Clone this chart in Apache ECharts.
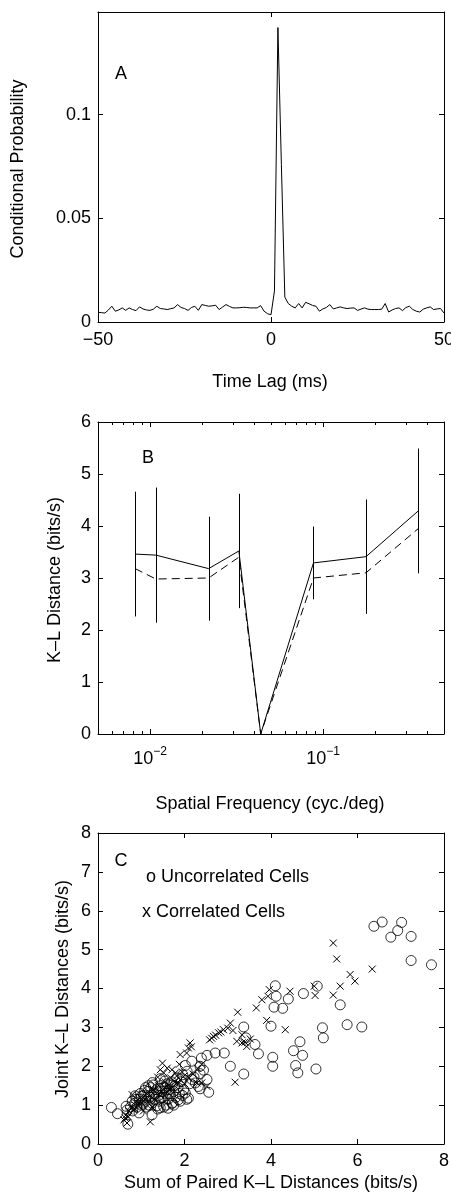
<!DOCTYPE html>
<html>
<head>
<meta charset="utf-8">
<script src="https://cdn.jsdelivr.net/npm/echarts@6/dist/echarts.min.js"></script>
<style>
html,body{margin:0;padding:0;background:#fff;}
#chart{width:451px;height:1194px;}
</style>
</head>
<body>
<div id="chart"></div>
<script>
// ---------- Panel A data ----------
const lags = [-50,-49,-48,-47,-46,-45,-44,-43,-42,-41,-40,-39,-38,-37,-36,-35,-34,-33,-32,-31,-30,-29,-28,-27,-26,-25,-24,-23,-22,-21,-20,-19,-18,-17,-16,-15,-14,-13,-12,-11,-10,-9,-8,-7,-6,-5,-4,-3,-2,-1,0,1,2,3,4,5,6,7,8,9,10,11,12,13,14,15,16,17,18,19,20,21,22,23,24,25,26,27,28,29,30,31,32,33,34,35,36,37,38,39,40,41,42,43,44,45,46,47,48,49,50];
const condProb = [0.0047,0.0045,0.0043,0.0058,0.0076,0.0052,0.0058,0.0068,0.0056,0.0068,
  0.0060,0.0055,0.0073,0.0063,0.0058,0.0056,0.0062,0.0076,0.0065,0.0063,
  0.0060,0.0064,0.0068,0.0084,0.0070,0.0065,0.0056,0.0070,0.0076,0.0056,
  0.0084,0.0080,0.0076,0.0078,0.0081,0.0060,0.0072,0.0084,0.0075,0.0068,
  0.0068,0.0069,0.0071,0.0070,0.0068,0.0068,0.0068,0.0079,0.0052,0.0040,
  0.0035,0.0150,0.1420,0.0760,0.0120,0.0089,0.0076,0.0068,0.0089,0.0068,
  0.0095,0.0088,0.0080,0.0076,0.0052,0.0063,0.0070,0.0084,0.0063,0.0068,
  0.0073,0.0068,0.0065,0.0067,0.0068,0.0056,0.0062,0.0068,0.0062,0.0060,
  0.0060,0.0060,0.0062,0.0089,0.0048,0.0058,0.0065,0.0068,0.0055,0.0070,
  0.0076,0.0060,0.0052,0.0048,0.0062,0.0068,0.0073,0.0060,0.0063,0.0065,
  0.0043];

// ---------- Panel B data ----------
const spatialFreq = [0.0082,0.0108,0.0218,0.0326,0.0436,0.088,0.177,0.355];
const klSolid     = [3.46,3.44,3.18,3.52,0,3.29,3.41,4.29];
const klDashed    = [3.18,2.98,3.00,3.40,0,3.00,3.10,3.95];
const klErr       = [1.20,1.30,1.00,1.10,0,0.70,1.10,1.20];
const logMinorTicks = [0.006,0.007,0.008,0.009,0.02,0.03,0.04,0.05,0.06,0.07,0.08,0.09,0.2,0.3,0.4];

// ---------- Panel C data ----------
const uncorrX = [0.31,0.45,0.67,0.69,0.65,0.86,1.17,1.25,6.38,6.57,7.02,6.93,6.77,7.24,7.24,7.71,
  4.10,5.07,4.75,4.40,4.12,4.07,4.27,5.60,3.37,4.00,5.19,5.21,5.76,6.10,3.42,3.63,3.71,3.06,3.37,
  4.04,4.04,4.52,4.67,4.73,4.57,4.62,5.04,2.92,2.71,2.52,2.39,2.36,2.36,2.52,2.56,2.36,2.17,2.02,
  2.06,2.17,2.25,2.09,1.86,1.71,1.44,2.02,1.56,1.31,1.00,1.05,0.79,
  0.75,0.80,0.85,0.90,0.95,1.00,1.05,1.10,1.12,1.15,1.20,1.22,1.25,1.30,1.32,1.35,1.40,1.42,1.45,
  1.48,1.50,1.52,1.55,1.58,1.60,1.62,1.65,1.68,1.70,1.72,1.75,1.78,1.80,1.85,1.88,1.92,1.95,1.98,
  2.05,1.10,0.95,1.38,1.58,1.75,
  0.88,0.98,1.08,1.18,1.28,1.36,1.46,1.54,1.64,1.72,1.82,1.90,2.12,2.22,2.32,2.44,1.26,1.44,1.62,1.96];
const uncorrY = [0.94,0.78,0.87,0.51,0.97,1.24,1.50,0.75,5.60,5.71,5.70,5.49,5.32,5.34,4.72,4.61,
  4.07,4.06,3.87,3.73,3.80,3.52,3.49,3.58,3.01,3.03,2.99,2.73,3.07,3.01,2.73,2.56,2.32,2.00,1.80,
  2.23,2.00,2.40,2.63,2.28,2.02,1.83,1.93,2.34,2.34,2.28,2.21,2.00,1.81,1.66,1.33,1.42,1.66,2.02,
  1.87,2.13,1.57,1.18,1.14,1.05,0.93,1.31,1.36,1.27,1.23,1.05,1.10,
  0.95,0.85,1.05,0.95,1.15,1.00,1.25,1.10,0.95,1.35,1.20,1.45,1.05,1.30,1.15,1.40,1.25,1.10,1.50,
  1.35,1.20,0.95,1.45,1.30,1.55,1.15,1.40,1.25,1.60,1.05,1.35,1.50,1.20,1.45,1.30,1.60,1.25,1.40,
  1.15,1.45,0.80,0.90,1.00,1.00,
  1.15,1.30,1.38,1.00,1.52,0.98,1.18,1.62,1.30,1.52,1.70,1.10,1.55,1.72,1.48,1.90,1.58,1.68,0.92,1.78];
const corrX = [5.44,5.52,6.34,5.83,5.94,5.60,5.44,5.00,5.02,4.44,4.33,3.96,3.93,3.79,3.66,3.90,3.23,
  3.06,2.90,2.79,2.67,2.58,3.21,3.33,3.44,3.17,3.33,2.13,2.09,1.90,1.49,1.44,1.71,1.98,2.29,2.52,
  1.21,0.63,0.67,0.82,0.79,0.94,1.52,1.79,2.05,2.63,2.40,
  0.65,0.72,0.78,0.85,0.88,0.92,0.98,1.02,1.08,1.12,1.18,1.22,1.28,1.30,1.35,1.40,1.45,1.50,1.55,
  1.58,1.62,1.68,1.72,1.78,1.82,1.85,1.90,1.95,2.00,2.10,2.20,2.30,2.40,0.60,0.70,1.05,1.25,
  1.38,1.60,1.66,1.88,2.16,2.72,2.84,3.00,3.12,3.40,3.52];
const corrY = [5.17,4.76,4.50,4.36,4.19,4.06,3.83,4.06,3.82,3.93,2.94,3.97,3.80,3.71,3.50,3.18,3.39,
  3.11,2.94,2.86,2.77,2.68,2.64,2.81,2.51,1.59,2.60,2.60,2.47,2.30,2.08,1.91,1.91,1.74,1.57,1.48,
  0.57,0.67,0.54,0.88,1.27,1.05,1.83,1.83,2.34,2.72,1.57,
  0.75,0.85,0.95,0.90,1.10,1.00,1.20,1.05,1.15,1.30,1.10,1.25,1.40,1.15,1.30,1.50,1.25,1.40,1.60,
  1.35,1.50,1.70,1.45,1.60,1.75,1.55,1.65,1.85,1.55,1.70,1.80,1.95,2.05,0.62,0.70,0.85,0.95,
  1.72,1.95,1.40,2.05,2.50,2.80,2.88,2.98,2.92,2.62,2.70];

const FONT = '"Liberation Sans", Arial, Helvetica, sans-serif';
const FS = 18;
const chart = echarts.init(document.getElementById('chart'), null, {renderer: 'canvas'});

const grids = [
  {left: 98, top: 12, width: 346, height: 310, outerBoundsMode: 'none'},
  {left: 98, top: 422, width: 346, height: 312, outerBoundsMode: 'none'},
  {left: 98, top: 833, width: 346, height: 311, outerBoundsMode: 'none'}
];

const lbl = {color: '#000', fontFamily: FONT, fontSize: FS, alignMinLabel: 'center', alignMaxLabel: 'center'};
function mainAxis(extra) {
  return Object.assign({
    axisLine: {show: true, onZero: false, lineStyle: {color: '#000', width: 1}},
    axisTick: {show: true, inside: true, length: 5, lineStyle: {color: '#000'}},
    splitLine: {show: false},
    axisLabel: Object.assign({}, lbl, {margin: 8})
  }, extra);
}
function mirrorAxis(extra) {
  return Object.assign({
    axisLine: {show: true, onZero: false, lineStyle: {color: '#000', width: 1}},
    axisTick: {show: true, inside: true, length: 5, lineStyle: {color: '#000'}},
    splitLine: {show: false},
    axisLabel: {show: false}
  }, extra);
}
const minusFmt = v => String(v).replace('-', '\u2212');
function logFmt(v) {
  const l = Math.log10(v);
  if (Math.abs(l - Math.round(l)) < 1e-6) {
    return '{b|10}{s|' + String(Math.round(l)).replace('-', '\u2212') + '}';
  }
  return '';
}

const option = {
  animation: false,
  backgroundColor: '#fff',
  grid: grids,
  xAxis: [
    mainAxis({gridIndex: 0, type: 'value', min: -50, max: 50, interval: 50, position: 'bottom',
      axisLabel: Object.assign({}, lbl, {margin: 9, formatter: minusFmt})}),
    mirrorAxis({gridIndex: 0, type: 'value', min: -50, max: 50, interval: 50, position: 'top'}),
    mainAxis({gridIndex: 1, type: 'log', logBase: 10, min: 0.005, max: 0.5, position: 'bottom',
      axisLabel: Object.assign({}, lbl, {margin: 12, formatter: logFmt,
        rich: {b: {fontFamily: FONT, fontSize: FS, color: '#000', verticalAlign: 'bottom'},
               s: {fontFamily: FONT, fontSize: 12, color: '#000', verticalAlign: 'top', padding: [0,0,10,0]}}})}),
    mirrorAxis({gridIndex: 1, type: 'log', logBase: 10, min: 0.005, max: 0.5, position: 'top'}),
    mainAxis({gridIndex: 2, type: 'value', min: 0, max: 8, interval: 2, position: 'bottom'}),
    mirrorAxis({gridIndex: 2, type: 'value', min: 0, max: 8, interval: 2, position: 'top'})
  ],
  yAxis: [
    mainAxis({gridIndex: 0, type: 'value', min: 0, max: 0.1495, interval: 0.05, position: 'left',
      axisLabel: Object.assign({}, lbl, {margin: 7, showMaxLabel: false, alignMinLabel: null, alignMaxLabel: null})}),
    mirrorAxis({gridIndex: 0, type: 'value', min: 0, max: 0.1495, interval: 0.05, position: 'right'}),
    mainAxis({gridIndex: 1, type: 'value', min: 0, max: 6, interval: 1, position: 'left',
      axisLabel: Object.assign({}, lbl, {margin: 7, alignMinLabel: null, alignMaxLabel: null})}),
    mirrorAxis({gridIndex: 1, type: 'value', min: 0, max: 6, interval: 1, position: 'right'}),
    mainAxis({gridIndex: 2, type: 'value', min: 0, max: 8, interval: 1, position: 'left',
      axisLabel: Object.assign({}, lbl, {margin: 7, alignMinLabel: null, alignMaxLabel: null})}),
    mirrorAxis({gridIndex: 2, type: 'value', min: 0, max: 8, interval: 1, position: 'right'})
  ],
  series: [
    {
      type: 'line', xAxisIndex: 0, yAxisIndex: 0,
      data: lags.map((l, i) => [l, condProb[i]]),
      showSymbol: false, symbol: 'none',
      lineStyle: {color: '#000', width: 1}
    },
    {
      type: 'line', xAxisIndex: 2, yAxisIndex: 2,
      data: spatialFreq.map((f, i) => [f, klSolid[i]]),
      showSymbol: false, symbol: 'none',
      lineStyle: {color: '#000', width: 1}
    },
    {
      type: 'line', xAxisIndex: 2, yAxisIndex: 2,
      data: spatialFreq.map((f, i) => [f, klDashed[i]]),
      showSymbol: false, symbol: 'none',
      lineStyle: {color: '#000', width: 1, type: [8, 5]}
    },
    {
      type: 'custom', xAxisIndex: 2, yAxisIndex: 2,
      data: spatialFreq.map((f, i) => [f, klSolid[i] - klErr[i], klSolid[i] + klErr[i]]),
      encode: {x: 0, y: [1, 2]},
      renderItem: function (params, api) {
        const lo = api.coord([api.value(0), api.value(1)]);
        const hi = api.coord([api.value(0), api.value(2)]);
        if (Math.abs(lo[1] - hi[1]) < 1) return null;
        const x = Math.round(lo[0]) + 0.5;
        return {type: 'line', shape: {x1: x, y1: lo[1], x2: x, y2: hi[1]},
          style: {stroke: '#000', lineWidth: 1}};
      }
    },
    {
      type: 'custom', xAxisIndex: 2, yAxisIndex: 2,
      data: logMinorTicks.map(v => [v]),
      encode: {x: 0},
      renderItem: function (params, api) {
        const b = api.coord([api.value(0), 0]);
        const t = api.coord([api.value(0), 6]);
        const x = Math.round(b[0]) + 0.5;
        return {type: 'group', children: [
          {type: 'line', shape: {x1: x, y1: b[1], x2: x, y2: b[1] - 3}, style: {stroke: '#000', lineWidth: 1}},
          {type: 'line', shape: {x1: x, y1: t[1], x2: x, y2: t[1] + 3}, style: {stroke: '#000', lineWidth: 1}}
        ]};
      }
    },
    {
      type: 'scatter', xAxisIndex: 4, yAxisIndex: 4,
      data: uncorrX.map((x, i) => [x, uncorrY[i]]),
      symbol: 'circle', symbolSize: 10,
      itemStyle: {color: 'rgba(0,0,0,0)', borderColor: '#000', borderWidth: 1}
    },
    {
      type: 'custom', xAxisIndex: 4, yAxisIndex: 4,
      data: corrX.map((x, i) => [x, corrY[i]]),
      encode: {x: 0, y: 1},
      renderItem: function (params, api) {
        const p = api.coord([api.value(0), api.value(1)]);
        const h = 3.5;
        return {type: 'group', children: [
          {type: 'line', shape: {x1: p[0] - h, y1: p[1] - h, x2: p[0] + h, y2: p[1] + h}, style: {stroke: '#000', lineWidth: 1}},
          {type: 'line', shape: {x1: p[0] - h, y1: p[1] + h, x2: p[0] + h, y2: p[1] - h}, style: {stroke: '#000', lineWidth: 1}}
        ]};
      }
    }
  ],
  graphic: [
    {type: 'text', x: 121, y: 74, style: {text: 'A', font: FS + 'px ' + FONT, fill: '#000', align: 'center', verticalAlign: 'middle'}},
    {type: 'text', x: 148, y: 458, style: {text: 'B', font: FS + 'px ' + FONT, fill: '#000', align: 'center', verticalAlign: 'middle'}},
    {type: 'text', x: 121, y: 861, style: {text: 'C', font: FS + 'px ' + FONT, fill: '#000', align: 'center', verticalAlign: 'middle'}},
    {type: 'text', x: 146, y: 877, style: {text: 'o Uncorrelated Cells', font: FS + 'px ' + FONT, fill: '#000', align: 'left', verticalAlign: 'middle'}},
    {type: 'text', x: 142, y: 912, style: {text: 'x Correlated Cells', font: FS + 'px ' + FONT, fill: '#000', align: 'left', verticalAlign: 'middle'}},
    {type: 'text', x: 270, y: 382, style: {text: 'Time Lag (ms)', font: FS + 'px ' + FONT, fill: '#000', align: 'center', verticalAlign: 'middle'}},
    {type: 'text', x: 270, y: 804, style: {text: 'Spatial Frequency (cyc./deg)', font: FS + 'px ' + FONT, fill: '#000', align: 'center', verticalAlign: 'middle'}},
    {type: 'text', x: 271, y: 1183, style: {text: 'Sum of Paired K\u2013L Distances (bits/s)', font: FS + 'px ' + FONT, fill: '#000', align: 'center', verticalAlign: 'middle'}},
    {type: 'text', x: 18, y: 169, rotation: Math.PI / 2, style: {text: 'Conditional Probability', font: FS + 'px ' + FONT, fill: '#000', align: 'center', verticalAlign: 'middle'}},
    {type: 'text', x: 55, y: 580, rotation: Math.PI / 2, style: {text: 'K\u2013L Distance (bits/s)', font: FS + 'px ' + FONT, fill: '#000', align: 'center', verticalAlign: 'middle'}},
    {type: 'text', x: 63, y: 989, rotation: Math.PI / 2, style: {text: 'Joint K\u2013L Distances (bits/s)', font: FS + 'px ' + FONT, fill: '#000', align: 'center', verticalAlign: 'middle'}}
  ]
};
chart.setOption(option);
</script>
</body>
</html>
